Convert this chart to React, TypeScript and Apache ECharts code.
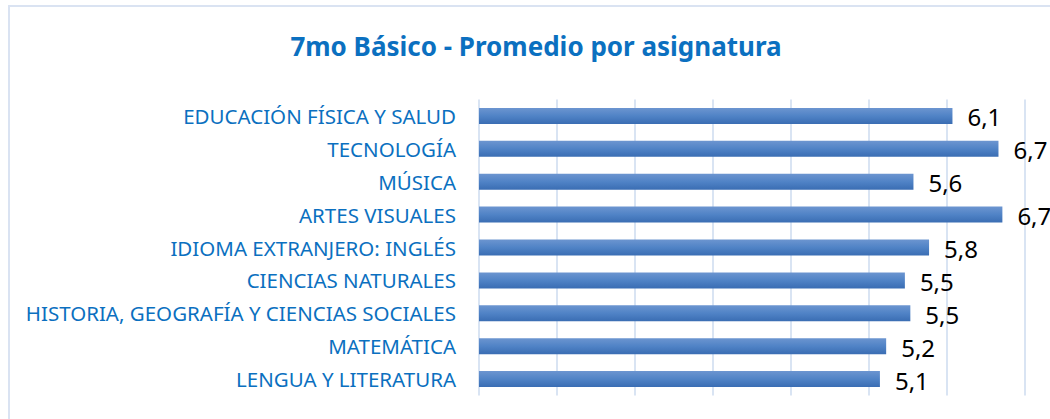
import React, { useEffect, useRef } from "react";
import * as echarts from "echarts";

const titleText = "7mo Básico - Promedio por asignatura";
const categories = [
  "EDUCACIÓN FÍSICA Y SALUD",
  "TECNOLOGÍA",
  "MÚSICA",
  "ARTES VISUALES",
  "IDIOMA EXTRANJERO: INGLÉS",
  "CIENCIAS NATURALES",
  "HISTORIA, GEOGRAFÍA Y CIENCIAS SOCIALES",
  "MATEMÁTICA",
  "LENGUA Y LITERATURA",
];
const promedios = [6.07, 6.66, 5.57, 6.71, 5.77, 5.46, 5.53, 5.22, 5.14];
const axisMin = 0;
const axisMax = 7;
const axisInterval = 1;

export default function App() {
  const ref = useRef<HTMLDivElement>(null);
  useEffect(() => {
    if (!ref.current) return;
    const chart = echarts.init(ref.current, undefined, { renderer: "svg" });
    chart.setOption({
      animation: false,
      backgroundColor: "#ffffff",
      title: {
        text: titleText,
        left: 531,
        textAlign: "center",
        top: 28,
        textStyle: {
          fontFamily: "Noto Sans",
          fontWeight: "bold",
          fontSize: 26,
          color: "#0B70C0",
        },
      },
      graphic: [
        {
          type: "rect",
          shape: { x: 9, y: 6, width: 1100, height: 500 },
          style: { fill: "none", stroke: "#DAE3F2", lineWidth: 2 },
          silent: true,
        },
      ],
      grid: { left: 479, top: 99.5, width: 546, height: 296, containLabel: false },
      xAxis: {
        type: "value",
        min: axisMin,
        max: axisMax,
        interval: axisInterval,
        axisLabel: { show: false },
        axisLine: { show: false },
        axisTick: { show: false },
        splitLine: { show: true, lineStyle: { color: "#D9E4F3", width: 2 } },
      },
      yAxis: {
        type: "category",
        data: categories,
        inverse: true,
        axisLine: { show: false },
        axisTick: { show: false },
        axisLabel: {
          margin: 23,
          fontFamily: "Noto Sans",
          fontSize: 20.5,
          color: "#0B70C0",
        },
      },
      series: [
        {
          type: "bar",
          data: promedios,
          barWidth: 16,
          itemStyle: {
            color: new echarts.graphic.LinearGradient(0, 0, 0, 1, [
              { offset: 0, color: "#6C95D0" },
              { offset: 0.5, color: "#5083C6" },
              { offset: 1, color: "#3A6DB3" },
            ]),
          },
          label: {
            show: true,
            position: "right",
            distance: 15,
            offset: [0, 1],
            fontFamily: "Noto Sans",
            fontSize: 24,
            color: "#000000",
            formatter: (p: any) => Number(p.value).toFixed(1).replace(".", ","),
          },
        },
      ],
    });
    return () => chart.dispose();
  }, []);
  return (
    <div
      ref={ref}
      style={{ position: "fixed", left: 0, top: 0, width: 1050, height: 419 }}
    />
  );
}
